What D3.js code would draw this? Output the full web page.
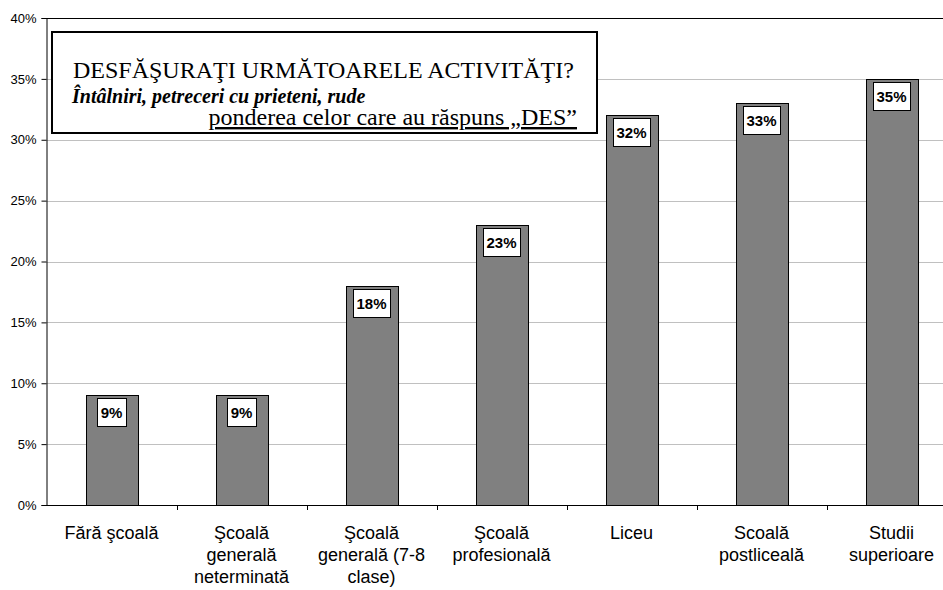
<!DOCTYPE html>
<html>
<head>
<meta charset="utf-8">
<script src="https://cdn.jsdelivr.net/npm/d3@7"></script>
<style>
  body { margin: 0; background: #fff; }
  svg { display: block; }
</style>
</head>
<body>
<div id="chart"></div>
<script>
// categorii (nivel de educatie), impartite pe randuri
var categories = ["Fără şcoală", "Şcoală generală neterminată", "Şcoală generală (7-8 clase)",
  "Şcoală profesională", "Liceu", "Scoală postliceală", "Studii superioare"];
var categoryLines = [
  ["Fără şcoală"],
  ["Şcoală", "generală", "neterminată"],
  ["Şcoală", "generală (7-8", "clase)"],
  ["Şcoală", "profesională"],
  ["Liceu"],
  ["Scoală", "postliceală"],
  ["Studii", "superioare"]
];
var values = [0.09, 0.09, 0.18, 0.23, 0.32, 0.33, 0.35];  // ponderea "DES"
var yTicks = [0, 0.05, 0.10, 0.15, 0.20, 0.25, 0.30, 0.35, 0.40];
var titleLines = ["DESFĂŞURAŢI URMĂTOARELE ACTIVITĂŢI?",
  "Întâlniri, petreceri cu prieteni, rude",
  "ponderea celor care au răspuns „DES”"];

var width = 943, height = 590;
var plotLeft = 46.5, plotTop = 18, plotBottom = 505, step = 130;  // zona graficului iese din imagine la dreapta

var svg = d3.select("#chart").append("svg")
  .attr("width", width)
  .attr("height", height);

var x = d3.scaleBand()
  .domain(categories)
  .range([plotLeft, plotLeft + step * categories.length])
  .paddingInner(0.6)
  .paddingOuter(0.3);

var y = d3.scaleLinear()
  .domain([0, 0.4])
  .range([plotBottom, plotTop]);

// linii de grila
svg.append("g")
  .selectAll("line")
  .data(yTicks.slice(1, -1))
  .enter().append("line")
  .attr("x1", plotLeft).attr("x2", plotLeft + step * 7)
  .attr("y1", function (d) { return Math.round(y(d)) + 0.5; })
  .attr("y2", function (d) { return Math.round(y(d)) + 0.5; })
  .style("stroke", "#c0c0c0")
  .style("stroke-width", 1);

// bare
svg.append("g")
  .selectAll("rect")
  .data(values)
  .enter().append("rect")
  .attr("x", function (d, i) { return Math.round(x(categories[i])) + 0.5; })
  .attr("y", function (d) { return Math.round(y(d)) + 0.5; })
  .attr("width", Math.round(x.bandwidth()))
  .attr("height", function (d) { return plotBottom - Math.round(y(d)); })
  .style("fill", "#808080")
  .style("stroke", "#000")
  .style("stroke-width", 1);

// axa Y
var yAxis = d3.axisLeft(y)
  .tickValues(yTicks)
  .tickSize(5)
  .tickFormat(d3.format(".0%"));
var gy = svg.append("g")
  .attr("transform", "translate(" + plotLeft + ",0)")
  .call(yAxis);
gy.select(".domain").style("stroke", "#000");
gy.selectAll(".tick line").style("stroke", "#000");
gy.selectAll(".tick text")
  .attr("x", -10)
  .style("font", "13px Arial, 'Liberation Sans', sans-serif")
  .style("fill", "#000");

// axa X: linia de baza si semnele intre categorii
svg.append("line")
  .attr("x1", plotLeft).attr("x2", plotLeft + step * 7)
  .attr("y1", plotBottom + 0.5).attr("y2", plotBottom + 0.5)
  .style("stroke", "#000");
svg.append("g")
  .selectAll("line")
  .data(d3.range(1, categories.length))
  .enter().append("line")
  .attr("x1", function (i) { return Math.round(x(categories[i]) - x.step() * x.paddingInner() / 2) + 0.5; })
  .attr("x2", function (i) { return Math.round(x(categories[i]) - x.step() * x.paddingInner() / 2) + 0.5; })
  .attr("y1", plotBottom).attr("y2", plotBottom + 5)
  .style("stroke", "#000");

// chenarul de sus al zonei graficului
svg.append("line")
  .attr("x1", plotLeft).attr("x2", plotLeft + step * 7)
  .attr("y1", plotTop + 0.5).attr("y2", plotTop + 0.5)
  .style("stroke", "#000");

// etichete categorii
var labels = svg.append("g")
  .selectAll("text")
  .data(categoryLines)
  .enter().append("text")
  .attr("text-anchor", "middle")
  .style("font", "18px Arial, 'Liberation Sans', sans-serif")
  .style("fill", "#000");
labels.selectAll("tspan")
  .data(function (d, i) { return d.map(function (t) { return { t: t, i: i }; }); })
  .enter().append("tspan")
  .attr("x", function (d) { return x(categories[d.i]) + x.bandwidth() / 2; })
  .attr("y", function (d, j) { return 539 + j * 22; })
  .text(function (d) { return d.t; });

// etichete valori (cutie alba cu chenar)
var vl = svg.append("g")
  .selectAll("g")
  .data(values)
  .enter().append("g");
vl.append("text")
  .attr("x", function (d, i) { return x(categories[i]) + x.bandwidth() / 2; })
  .attr("y", function (d) { return y(d) + 17.5; })
  .attr("dy", "0.35em")
  .attr("text-anchor", "middle")
  .style("font", "bold 15px Arial, 'Liberation Sans', sans-serif")
  .text(function (d) { return d3.format(".0%")(d); });
vl.each(function () {
  var g = d3.select(this), t = g.select("text"), b = t.node().getBBox();
  g.insert("rect", "text")
    .attr("x", Math.round(b.x - 3.5) + 0.5)
    .attr("y", function (d) { return Math.round(y(d) + 3) + 0.5; })
    .attr("width", Math.round(b.width + 7))
    .attr("height", 28)
    .style("fill", "#fff")
    .style("stroke", "#000");
});

// caseta de titlu
var tb = svg.append("g");
tb.append("rect")
  .attr("x", 52).attr("y", 32)
  .attr("width", 545).attr("height", 101)
  .style("fill", "#fff")
  .style("stroke", "#000")
  .style("stroke-width", 2);
tb.append("text")
  .attr("x", 73).attr("y", 78)
  .style("font", "24px 'Liberation Serif', 'Times New Roman', serif")
  .text(titleLines[0]);
tb.append("text")
  .attr("x", 72).attr("y", 103)
  .style("font", "italic bold 20px 'Liberation Serif', 'Times New Roman', serif")
  .text(titleLines[1]);
tb.append("text")
  .attr("x", 577).attr("y", 125)
  .attr("text-anchor", "end")
  .style("font", "24px 'Liberation Serif', 'Times New Roman', serif")
  .style("text-decoration", "underline")
  .text(titleLines[2]);
</script>
</body>
</html>
